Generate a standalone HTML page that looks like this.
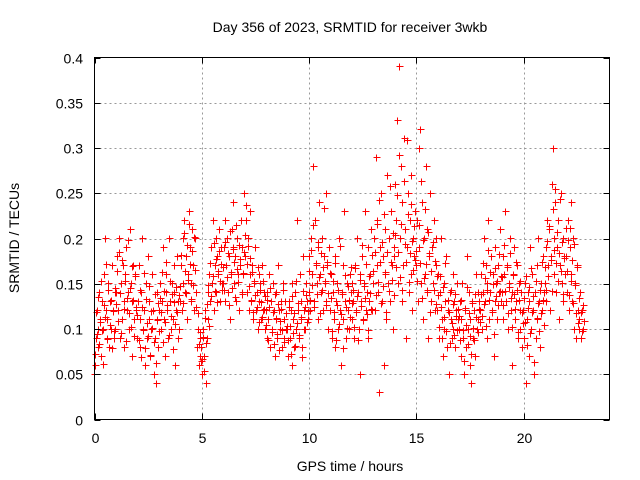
<!DOCTYPE html>
<html><head><meta charset="utf-8"><style>
body{margin:0;background:#fff}
svg{display:block;font-family:"Liberation Sans",sans-serif}
</style></head><body>
<svg id="chart" width="640" height="480" viewBox="0 0 640 480" xmlns="http://www.w3.org/2000/svg">
<text x="350" y="32" font-size="14" text-anchor="middle">Day 356 of 2023, SRMTID for receiver 3wkb</text>
<g id="grid"></g>
<g id="pts"></g>
<rect x="94.5" y="57.5" width="515" height="362" fill="none" stroke="#000" stroke-width="1"/>
<g id="ticks" font-size="14"></g>
<text x="350" y="471" font-size="14" text-anchor="middle">GPS time / hours</text>
<text x="19" y="238" font-size="14" text-anchor="middle" transform="rotate(-90 19 238)">SRMTID / TECUs</text>
</svg>
<script>
const xTicks=[0,5,10,15,20];
const yTicks=[0,0.05,0.1,0.15,0.2,0.25,0.3,0.35,0.4];
const yTickLabels=["0","0.05","0.1","0.15","0.2","0.25","0.3","0.35","0.4"];
const hourStarts=[0,1,2,3,4,5,6,7,8,9,10,11,12,13,14,15,16,17,18,19,20,21,22];
const h0=[.05,.06,.09,.12,.08,.1,.14,.11,.07,.13,.1,.16,.2,.12,.09,.11,.15,.08,.13,.1,.17,.12,.09,.14];
const h1=[.1,.14,.18,.12,.2,.09,.15,.11,.17,.13,.08,.16,.19,.12,.14,.1,.21,.15,.07,.13,.17,.11,.16,.12];
const h2=[.09,.13,.17,.11,.08,.14,.2,.1,.12,.06,.15,.09,.18,.11,.13,.07,.1,.16,.12,.05,.09,.04,.11,.14];
const h3=[.08,.12,.15,.1,.13,.19,.11,.07,.14,.16,.12,.09,.2,.13,.1,.15,.11,.17,.14,.06,.12,.18,.13,.1];
const h4=[.13,.17,.12,.2,.15,.22,.14,.18,.11,.16,.23,.19,.13,.15,.21,.17,.12,.2,.14,.08,.1,.06,.09,.07];
const h5=[.08,.05,.1,.07,.12,.04,.09,.14,.11,.16,.13,.19,.15,.22,.12,.17,.2,.14,.18,.16,.21,.13,.19,.15];
const h6=[.15,.19,.13,.22,.17,.2,.14,.18,.11,.16,.21,.19,.24,.15,.18,.13,.2,.16,.12,.17,.22,.14,.19,.16];
const h7=[.25,.18,.22,.14,.2,.12,.16,.23,.13,.17,.11,.15,.19,.12,.14,.1,.16,.13,.15,.11,.17,.12,.14,.1];
const h8=[.12,.09,.14,.11,.16,.08,.13,.1,.15,.12,.07,.11,.14,.09,.17,.12,.1,.13,.08,.15,.11,.09,.13,.1];
const h9=[.1,.07,.13,.09,.12,.06,.15,.11,.08,.14,.1,.22,.12,.09,.16,.11,.13,.08,.18,.12,.1,.15,.13,.11];
const h10=[.14,.18,.12,.2,.16,.28,.13,.22,.17,.15,.19,.11,.24,.16,.14,.2,.12,.18,.15,.25,.13,.17,.1,.19];
const h11=[.12,.16,.09,.14,.11,.18,.08,.13,.15,.1,.2,.12,.06,.14,.17,.11,.23,.13,.09,.15,.12,.1,.16,.14];
const h12=[.11,.15,.13,.09,.17,.12,.2,.14,.1,.16,.05,.13,.18,.11,.15,.23,.12,.14,.09,.19,.13,.16,.21,.12];
const h13=[.15,.2,.12,.29,.17,.22,.14,.03,.19,.25,.13,.18,.06,.16,.21,.11,.27,.15,.2,.13,.23,.17,.1,.19];
const h14=[.18,.26,.22,.33,.15,.39,.2,.28,.13,.24,.17,.31,.21,.09,.19,.25,.14,.22,.16,.27,.12,.2,.18,.23];
const h15=[.17,.22,.13,.3,.19,.32,.15,.24,.11,.2,.16,.28,.14,.21,.09,.18,.25,.13,.19,.15,.22,.12,.17,.2];
const h16=[.12,.16,.09,.14,.2,.11,.07,.15,.1,.13,.18,.08,.12,.05,.14,.11,.09,.16,.1,.13,.08,.12,.15,.11];
const h17=[.1,.13,.07,.11,.15,.09,.05,.12,.08,.18,.1,.14,.06,.11,.04,.13,.09,.12,.07,.16,.1,.14,.11,.13];
const h18=[.12,.16,.1,.14,.2,.13,.17,.09,.15,.22,.11,.14,.18,.12,.16,.07,.13,.19,.15,.11,.17,.14,.21,.13];
const h19=[.14,.18,.11,.16,.23,.13,.17,.1,.15,.2,.12,.14,.06,.16,.19,.11,.13,.17,.09,.15,.12,.1,.14,.08];
const h20=[.12,.09,.15,.04,.11,.14,.07,.13,.19,.1,.16,.12,.05,.14,.09,.17,.11,.2,.13,.08,.15,.12,.18,.14];
const h21=[.15,.19,.13,.22,.17,.21,.12,.18,.26,.3,.2,.16,.24,.14,.19,.22,.11,.17,.25,.15,.2,.13,.18,.16];
const h22=[.18,.14,.22,.12,.19,.16,.24,.13,.2,.1,.15,.09,.17,.12,.11,.1,.14,.09,.12,.1];
const b0=[.072,.118,.094,.135,.083,.107,.152,.098,.061,.126,.113,.171,.088,.142,.104,.131,.079,.119,.097,.145];
const b1=[.127,.163,.108,.184,.139,.095,.176,.121,.153,.086,.134,.198,.117,.145,.102,.169,.131,.092,.158,.124];
const b2=[.115,.087,.142,.068,.124,.098,.161,.079,.133,.106,.092,.147,.071,.119,.101,.085,.138,.062,.109,.128];
const b3=[.097,.134,.118,.162,.085,.141,.107,.173,.126,.093,.152,.114,.138,.077,.129,.105,.146,.118,.089,.137];
const b4=[.147,.181,.128,.205,.163,.139,.192,.154,.216,.171,.133,.186,.148,.201,.165,.124,.117,.083,.096,.064];
const b5=[.066,.091,.053,.112,.084,.127,.148,.103,.172,.136,.158,.194,.141,.177,.129,.163,.186,.152,.171,.143];
const b6=[.168,.142,.196,.157,.183,.126,.208,.162,.145,.188,.173,.135,.214,.166,.151,.192,.177,.138,.161,.184];
const b7=[.203,.236,.171,.191,.147,.178,.132,.162,.118,.153,.137,.124,.168,.107,.143,.129,.113,.152,.121,.136];
const b8=[.104,.132,.087,.124,.145,.096,.118,.083,.138,.112,.094,.127,.076,.108,.121,.098,.143,.085,.117,.103];
const b9=[.087,.124,.103,.072,.136,.095,.117,.081,.152,.106,.128,.093,.113,.068,.141,.099,.124,.137,.107,.119];
const b10=[.163,.131,.187,.148,.214,.124,.172,.138,.196,.157,.117,.183,.142,.168,.233,.152,.126,.174,.139,.161];
const b11=[.134,.097,.153,.118,.172,.087,.126,.143,.105,.191,.116,.138,.078,.159,.124,.101,.147,.132,.113,.168];
const b12=[.128,.143,.102,.167,.118,.136,.087,.154,.125,.192,.109,.147,.134,.171,.116,.098,.158,.139,.122,.181];
const b13=[.163,.184,.137,.216,.151,.242,.173,.128,.196,.147,.227,.162,.118,.185,.141,.258,.173,.154,.206,.137];
const b14=[.203,.168,.247,.184,.292,.157,.216,.142,.263,.193,.174,.308,.226,.151,.183,.238,.197,.165,.213,.176];
const b15=[.186,.153,.214,.172,.263,.134,.198,.156,.232,.171,.142,.207,.183,.118,.164,.196,.143,.175,.127,.158];
const b16=[.137,.102,.158,.124,.089,.146,.113,.172,.097,.131,.118,.084,.142,.106,.127,.093,.138,.114,.098,.121];
const b17=[.114,.087,.132,.098,.064,.123,.104,.146,.083,.117,.092,.072,.128,.101,.087,.138,.113,.096,.122,.107];
const b18=[.138,.114,.172,.127,.156,.103,.143,.187,.131,.162,.118,.149,.094,.167,.136,.153,.126,.182,.141,.158];
const b19=[.157,.126,.192,.141,.168,.117,.146,.183,.134,.102,.159,.138,.121,.174,.143,.096,.131,.152,.118,.106];
const b20=[.134,.107,.158,.082,.123,.146,.095,.167,.118,.136,.063,.152,.112,.128,.097,.143,.117,.174,.131,.104];
const b21=[.168,.143,.197,.158,.213,.176,.141,.232,.187,.254,.172,.207,.152,.183,.243,.164,.196,.138,.178,.211];
const b22=[.163,.198,.137,.211,.152,.176,.128,.193,.148,.117,.168,.106,.134,.118,.097,.126,.108];
const groupsA=[h0,h1,h2,h3,h4,h5,h6,h7,h8,h9,h10,h11,h12,h13,h14,h15,h16,h17,h18,h19,h20,h21,h22];
const groupsB=[b0,b1,b2,b3,b4,b5,b6,b7,b8,b9,b10,b11,b12,b13,b14,b15,b16,b17,b18,b19,b20,b21,b22];

const NS="http://www.w3.org/2000/svg";
const X0=94.5,X1=609.5,Y0=419.5,Y1=57.5,XMAX=24,YMAX=0.4;
function xs(v){return X0+(X1-X0)*v/XMAX;}
function ys(v){return Y0-(Y0-Y1)*v/YMAX;}
function mk(tag,attrs,parent){const e=document.createElementNS(NS,tag);for(const k in attrs)e.setAttribute(k,attrs[k]);parent.appendChild(e);return e;}
const grid=document.getElementById('grid'),ticks=document.getElementById('ticks'),pts=document.getElementById('pts');
xTicks.forEach(t=>{
  const x=Math.round(xs(t))+0.5;
  if(t>0){const g=mk('line',{x1:x,x2:x,y1:Y1,y2:Y0,stroke:'#999','stroke-dasharray':'2,3'},grid);
  
  }
  const tk=mk('path',{d:`M${x} ${Y0}v-6M${x} ${Y1}v6`,stroke:'#000'},ticks);
  
  
  const lb=mk('text',{x:x,y:443,'text-anchor':'middle'},ticks);lb.textContent=String(t);
  
  
});
yTicks.forEach((t,i)=>{
  const y=Math.round(ys(t))+0.5;
  if(t>0&&t<YMAX){const g=mk('line',{x1:X0,x2:X1,y1:y,y2:y,stroke:'#999','stroke-dasharray':'2,3'},grid);
  
  }
  const tk=mk('path',{d:`M${X0} ${y}h6M${X1} ${y}h-6`,stroke:'#000'},ticks);
  
  
  const lb=mk('text',{x:83,y:y+5,'text-anchor':'end'},ticks);lb.textContent=yTickLabels[i];
  
  
});
let d='';
function addGroups(groups,n,off){
  groups.forEach((g,gi)=>{
    g.forEach((v,i)=>{
      const t=hourStarts[gi]+i/n+off;
      const x=Math.floor(xs(t))+0.5,y=Math.floor(ys(v))+0.5;
      d+=`M${x-3} ${y}h7M${x} ${y-3}v7`;
    });
  });
}
addGroups(groupsA,24,0);
addGroups(groupsB,20,0.025);
const p=mk('path',{d:d,stroke:'#f00','stroke-width':1,fill:'none','shape-rendering':'crispEdges'},pts);


</script>
</body></html>
